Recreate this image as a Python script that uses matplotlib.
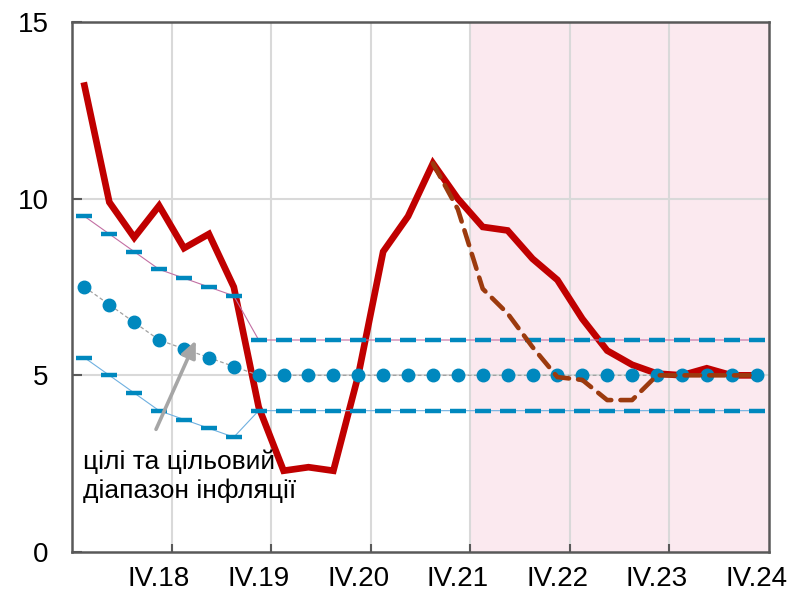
import matplotlib
matplotlib.use("Agg")
import matplotlib.pyplot as plt
import numpy as np

plt.rcParams['font.family'] = ['Liberation Sans', 'DejaVu Sans']

quarters = [f"{q}.{y}" for y in range(18, 25) for q in ["I", "II", "III", "IV"]]
tick_labels = ["IV.18", "IV.19", "IV.20", "IV.21", "IV.22", "IV.23", "IV.24"]

inflation = [13.2, 9.9, 8.9, 9.8, 8.6, 9.0, 7.5, 4.1,
             2.3, 2.4, 2.3, 5.0, 8.5, 9.5, 11.0, 10.0,
             9.2, 9.1, 8.3, 7.7, 6.6, 5.7, 5.3, 5.05,
             5.0, 5.2, 5.0, 5.0]
# previous forecast path (starts at III.21)
prev_forecast = [None] * 14 + [11.0, 9.7, 7.45, 6.75, 5.8, 4.95,
                               4.87, 4.3, 4.3, 5.0, 5.0, 5.0, 5.0, 5.0]
target_upper = [9.5, 9.0, 8.5, 8.0, 7.75, 7.5, 7.25] + [6.0] * 21
target_mid = [7.5, 7.0, 6.5, 6.0, 5.75, 5.5, 5.25] + [5.0] * 21
target_lower = [5.5, 5.0, 4.5, 4.0, 3.75, 3.5, 3.25] + [4.0] * 21
note_lines = ["цілі та цільовий", "діапазон інфляції"]

x = np.arange(len(quarters))
red = "#C00000"
blue = "#0088BE"
brown = "#9C3A0E"

fig = plt.figure(figsize=(7.94, 6.01), dpi=100)
ax = fig.add_axes([72/794, 1-552/601, (769-72)/794, (552-22)/601])

# shaded forecast area
ax.axvspan(15.5, 27.5, color="#FBE9EF", zorder=0, lw=0)

# grid
for xv in np.arange(3.5, 27, 4):
    ax.axvline(xv, color="#D9D9D9", lw=1.5, zorder=1)
for yv in [5, 10]:
    ax.axhline(yv, color="#D9D9D9", lw=1.5, zorder=1)

# actual inflation
ax.plot(x, inflation, color=red, lw=4.8, zorder=3, solid_joinstyle='miter')

# targets
ax.plot(x, target_upper, color="#C36FA3", lw=0.8, zorder=4)
ax.plot(x, target_upper, ls='none', marker='_', ms=11.5, mew=3.2, color=blue, zorder=5)
ax.plot(x, target_mid, color="#A0A0A0", lw=0.9, ls=(0, (3, 2)), zorder=4)
ax.plot(x, target_mid, ls='none', marker='o', ms=9, color=blue, zorder=5)
ax.plot(x, target_lower, color="#6FB0E0", lw=0.8, zorder=4)
ax.plot(x, target_lower, ls='none', marker='_', ms=11.5, mew=3.2, color=blue, zorder=5)

# previous forecast
pf = np.array([np.nan if v is None else v for v in prev_forecast], dtype=float)
ax.plot(x, pf, color=brown, lw=3.3, ls=(0, (3.4, 2.0)), zorder=6, dash_capstyle='round')

# annotation
ax.annotate("", xy=(4.52, 6.06), xytext=(2.83, 3.4),
            arrowprops=dict(arrowstyle="-|>,head_length=1.0,head_width=0.45",
                            color="#A6A6A6", lw=2.6), zorder=7)
ax.text(-0.05, 2.35, note_lines[0], fontsize=19, va='baseline', ha='left', zorder=7)
ax.text(-0.05, 1.53, note_lines[1], fontsize=19, va='baseline', ha='left', zorder=7)

ax.set_xlim(-0.5, 27.5)
ax.set_ylim(0, 15)
ax.set_yticks([0, 5, 10, 15])
ax.set_yticklabels(["0", "5", "10", "15"])
ax.set_xticks(np.arange(3.5, 24, 4))
ax.set_xticklabels([])
ax.set_xticks(np.arange(3, 28, 4), minor=True)
ax.set_xticklabels(tick_labels, minor=True)
ax.tick_params(axis='x', which='major', direction='in', length=6, width=1.5, color="#595959")
ax.tick_params(axis='x', which='minor', length=0, pad=10, labelsize=20)
ax.tick_params(axis='y', direction='in', length=7, width=1.5, color="#595959",
               pad=17, labelsize=20)
for s in ax.spines.values():
    s.set_color("#595959")
    s.set_linewidth(1.8)

fig.savefig("out.png", dpi=100)
